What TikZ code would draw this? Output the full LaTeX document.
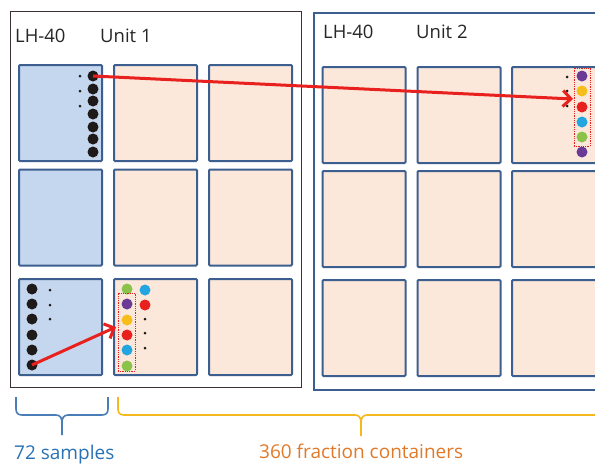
\documentclass[tikz,border=0pt]{standalone}
\usepackage{fontspec}
\setmainfont{Open Sans}
\usetikzlibrary{arrows.meta}
\definecolor{cellblue}{HTML}{C5D7EE}
\definecolor{cellpeach}{HTML}{FCE8DA}
\definecolor{cellline}{HTML}{3D5F8F}
\definecolor{frameblk}{HTML}{3A3230}
\definecolor{dotblk}{HTML}{1E1A19}
\definecolor{cpurple}{HTML}{6A3A96}
\definecolor{cyellow}{HTML}{F6BE1A}
\definecolor{cred}{HTML}{E8211E}
\definecolor{cblue}{HTML}{23A6DF}
\definecolor{cgreen}{HTML}{8BC34A}
\definecolor{txtblue}{HTML}{2A72B5}
\definecolor{txtorange}{HTML}{E07A2A}
\definecolor{braceblue}{HTML}{4A7DB8}
\definecolor{braceyellow}{HTML}{F5B920}
\tikzset{
  cell/.style={draw=cellline, line width=2pt, fill=cellpeach, rounded corners=1pt,
    minimum width=83pt, minimum height=96pt, inner sep=0pt},
  bigdot/.style={circle, inner sep=0pt, minimum size=11pt},
  smalldot/.style={circle, fill=dotblk, inner sep=0pt, minimum size=3pt},
  lbl/.style={anchor=base west, inner sep=0pt, font=\fontsize{18.5}{22}\selectfont, text=black!85},
  captxt/.style={anchor=base west, inner sep=0pt, font=\fontsize{19}{22}\selectfont},
  arr/.style={draw=cred, line width=3pt, -{Straight Barb[length=8pt,width=16pt]}},
  sel/.style={draw=cred, densely dotted, line width=0.8pt},
  brace/.style={line width=1.6pt}
}
\begin{document}
\begin{tikzpicture}[x=1pt,y=-1pt]
\useasboundingbox (0,0) rectangle (595,464);
\clip (0,0) rectangle (595,464);
\fill[white] (0,0) rectangle (595,464);
% frames
\node[draw=frameblk, line width=1pt, minimum width=291pt, minimum height=376pt, inner sep=0pt] (unitA) at (155.5,199) {};
\node[draw=cellline, line width=2pt, minimum width=300pt, minimum height=377pt, inner sep=0pt, anchor=north west] (unitB) at (313,12) {};
% labels
\node[lbl] (lhA) at (15,42) {LH-40};
\node[lbl] (unA) at (100,42) {Unit 1};
\node[lbl] (lhB) at (323,38) {LH-40};
\node[lbl] (unB) at (416,38) {Unit 2};
% unit 1 cells
\foreach \r/\y in {1/113,2/217.5,3/327}{
  \node[cell, fill=cellblue] (a\r1) at (60.5,\y) {};
  \node[cell] (a\r2) at (155.5,\y) {};
  \node[cell] (a\r3) at (250.5,\y) {};
}
% unit 2 cells
\foreach \r/\y in {1/115,2/219,3/328}{
  \node[cell] (b\r1) at (364,\y) {};
  \node[cell] (b\r2) at (459,\y) {};
  \node[cell, minimum width=84pt] (b\r3) at (554,\y) {};
}
% samples in first cell
\foreach \i/\y in {1/76,2/89,3/101,4/114,5/127,6/139,7/152}{
  \node[bigdot, fill=dotblk] (s\i) at (93,\y) {};
}
\foreach \i/\y in {1/76,2/91,3/106}{
  \node[smalldot] (ss\i) at (80,\y) {};
}
% samples in bottom-left cell
\foreach \i/\y in {1/289,2/304,3/319,4/335,5/350,6/365}{
  \node[bigdot, fill=dotblk] (t\i) at (32,\y) {};
}
\foreach \i/\y in {1/290,2/305,3/319}{
  \node[smalldot] (ts\i) at (50,\y) {};
}
% fractions in unit 1 cell
\foreach \i/\y/\c in {1/289/cgreen,2/304/cpurple,3/320/cyellow,4/335/cred,5/350/cblue,6/366/cgreen}{
  \node[bigdot, fill=\c] (f\i) at (127,\y) {};
}
\node[bigdot, fill=cblue] (g1) at (145,290) {};
\node[bigdot, fill=cred] (g2) at (145,305) {};
\foreach \i/\y in {1/319,2/333,3/348}{
  \node[smalldot] (gs\i) at (145,\y) {};
}
\node[sel, minimum width=17pt, minimum height=78pt, inner sep=0pt] (selA) at (126.5,332) {};
% fractions in unit 2 cell
\foreach \i/\y/\c in {1/76/cpurple,2/91/cyellow,3/107/cred,4/122/cblue,5/137/cgreen,6/152/cpurple}{
  \node[bigdot, fill=\c] (h\i) at (582,\y) {};
}
\foreach \i/\y in {1/77,2/91,3/106}{
  \node[smalldot] (hs\i) at (567,\y) {};
}
\node[sel, minimum width=16pt, minimum height=78pt, inner sep=0pt] (selB) at (582,107) {};
% arrows
\coordinate (tipB) at (573,99);
\coordinate (tipA) at (116,327);
\draw[arr] (s1.center) -- (tipB);
\draw[arr] (t6.center) -- (tipA);
% braces
\draw[brace, braceblue] (16,397) -- (16,409) .. controls (16,413) and (18,415) .. (22,415) -- (56,415)
  .. controls (60,415) and (62,418) .. (62,422) -- (62,435);
\draw[brace, braceblue] (108,397) -- (108,409) .. controls (108,413) and (106,415) .. (102,415) -- (68,415)
  .. controls (64,415) and (62,418) .. (62,422);
\draw[brace, braceyellow] (118,397) -- (118,409) .. controls (118,413) and (120,415) .. (124,415) -- (355,415)
  .. controls (359,415) and (361,418) .. (361,422) -- (361,436);
\draw[brace, braceyellow] (600,415) -- (367,415) .. controls (363,415) and (361,418) .. (361,422);
% captions
\node[captxt, text=txtblue] (capA) at (14,459) {72 samples};
\node[captxt, text=txtorange] (capB) at (259,458.5) {360 fraction containers};
\end{tikzpicture}
\end{document}
